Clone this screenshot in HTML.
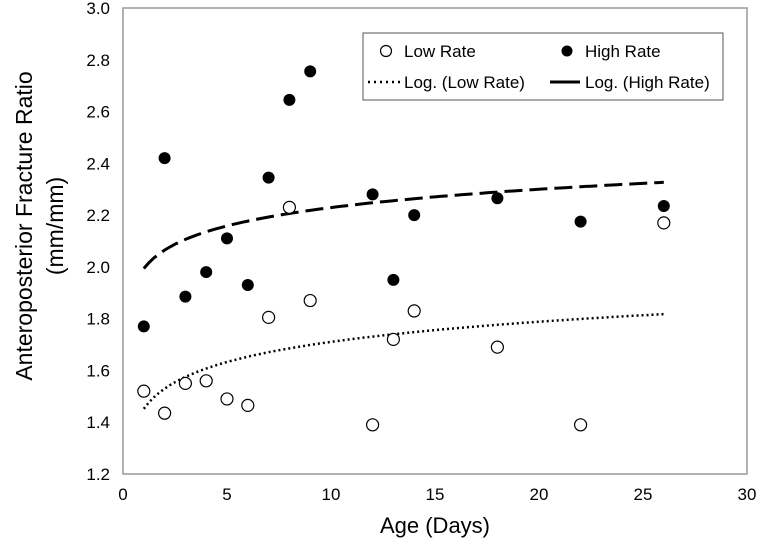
<!DOCTYPE html>
<html><head><meta charset="utf-8"><style>
body{margin:0;background:#fff;font-family:"Liberation Sans",sans-serif}
svg text{font-family:"Liberation Sans",sans-serif;fill:#000}
</style></head><body>
<svg width="761" height="545">
<g id="root"></g>
</svg>
<script>
const days=[1,2,3,4,5,6,7,8,9,12,13,14,18,22,26];
const lowRate=[1.52,1.435,1.55,1.56,1.49,1.465,1.805,2.23,1.87,1.39,1.72,1.83,1.69,1.39,2.17];
const highRate=[1.77,2.42,1.885,1.98,2.11,1.93,2.345,2.645,2.755,2.28,1.95,2.2,2.265,2.175,2.235];
const xTicks=[0,5,10,15,20,25,30];
const yTicks=[1.2,1.4,1.6,1.8,2.0,2.2,2.4,2.6,2.8,3.0];
const X0=123,X1=747,Y0=474,Y1=8;
const sx=v=>X0+(v-0)/30*(X1-X0);
const sy=v=>Y0-(v-1.2)/1.8*(Y0-Y1);
const NS="http://www.w3.org/2000/svg";
const root=document.getElementById('root');
function mk(t,a,p){const e=document.createElementNS(NS,t);for(const k in a)e.setAttribute(k,a[k]);(p||root).appendChild(e);return e;}
let e=mk('rect',{x:X0,y:Y1,width:X1-X0,height:Y0-Y1,fill:'none',stroke:'#999','stroke-width':1.5});


xTicks.forEach(t=>{const l=mk('text',{x:sx(t),y:500,'text-anchor':'middle','font-size':17});l.textContent=t;

});
yTicks.forEach(t=>{const l=mk('text',{x:110,y:sy(t)+6,'text-anchor':'end','font-size':17});l.textContent=t.toFixed(1);

});
let xt=mk('text',{x:435,y:533,'text-anchor':'middle','font-size':22});xt.textContent='Age (Days)';


let yt=mk('text',{transform:'translate(32,226) rotate(-90)','text-anchor':'middle','font-size':23});


const t1=mk('tspan',{x:0,dy:0},yt);t1.textContent='Anteroposterior Fracture Ratio';
const t2=mk('tspan',{x:0,dy:31},yt);t2.textContent='(mm/mm)';
function logfit(xs,ys){const n=xs.length;let a=0,b=0,c=0,d=0;xs.forEach((x,i)=>{const l=Math.log(x);a+=l;b+=ys[i];c+=l*l;d+=l*ys[i];});const m=(n*d-a*b)/(n*c-a*a);return [m,(b-m*a)/n];}
function trend(ys,dash,w,name){const [m,k]=logfit(days,ys);let p='';for(let x=1;x<=26.001;x+=0.25){p+=(p?'L':'M')+sx(x).toFixed(1)+','+sy(m*Math.log(x)+k).toFixed(1);}
const t=mk('path',{d:p,fill:'none',stroke:'#000','stroke-width':w,'stroke-dasharray':dash});

}
trend(lowRate,'2,3',2.5,'trend-low-rate');
trend(highRate,'18,7',3,'trend-high-rate');
days.forEach((d,i)=>{const c=mk('circle',{cx:sx(d),cy:sy(lowRate[i]),r:6,fill:'#fff',stroke:'#000','stroke-width':1.2});


const h=mk('circle',{cx:sx(d),cy:sy(highRate[i]),r:6,fill:'#000'});

});
const lg=mk('g',{});


mk('rect',{x:363,y:33,width:360,height:67,fill:'#fff',stroke:'#555','stroke-width':1},lg);
mk('circle',{cx:386,cy:51,r:5.5,fill:'#fff',stroke:'#000','stroke-width':1.2},lg);
let a=mk('text',{x:404,y:57,'font-size':17},lg);a.textContent='Low Rate';
mk('circle',{cx:567,cy:51,r:5.5,fill:'#000'},lg);
a=mk('text',{x:585,y:57,'font-size':17},lg);a.textContent='High Rate';
mk('line',{x1:368,y1:82,x2:404,y2:82,stroke:'#000','stroke-width':2.5,'stroke-dasharray':'2,4'},lg);
a=mk('text',{x:404,y:88,'font-size':17},lg);a.textContent='Log. (Low Rate)';
mk('line',{x1:550,y1:82,x2:580,y2:82,stroke:'#000','stroke-width':3},lg);
a=mk('text',{x:585,y:88,'font-size':17},lg);a.textContent='Log. (High Rate)';
</script>
</body></html>
